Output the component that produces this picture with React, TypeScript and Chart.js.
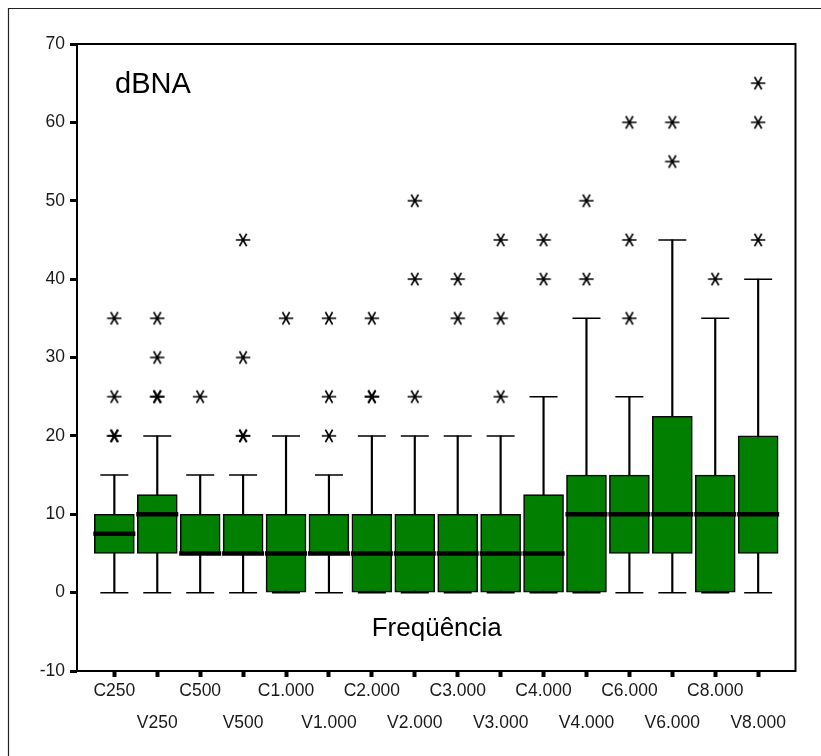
import React, { useEffect, useRef } from 'react';
import { Chart, registerables } from 'chart.js';

Chart.register(...registerables);

const categories = [
  'C250', 'V250', 'C500', 'V500', 'C1.000', 'V1.000', 'C2.000', 'V2.000',
  'C3.000', 'V3.000', 'C4.000', 'V4.000', 'C6.000', 'V6.000', 'C8.000', 'V8.000',
];
const q1 = [5, 5, 5, 5, 0, 5, 0, 0, 0, 0, 0, 0, 5, 5, 0, 5];
const q3 = [10, 12.5, 10, 10, 10, 10, 10, 10, 10, 10, 12.5, 15, 15, 22.5, 15, 20];
const medians = [7.5, 10, 5, 5, 5, 5, 5, 5, 5, 5, 5, 10, 10, 10, 10, 10];
const whiskerLow = [0, 0, 0, 0, 0, 0, 0, 0, 0, 0, 0, 0, 0, 0, 0, 0];
const whiskerHigh = [15, 20, 15, 15, 20, 15, 20, 20, 20, 20, 25, 35, 25, 45, 35, 40];
const outliers: number[][] = [
  [20, 20, 25, 35],
  [25, 25, 30, 35],
  [25],
  [20, 20, 30, 45],
  [35],
  [20, 25, 35],
  [25, 25, 35],
  [25, 40, 50],
  [35, 40],
  [25, 35, 45],
  [40, 45],
  [40, 50],
  [35, 45, 60],
  [55, 60],
  [40],
  [45, 60, 65],
];
const yMin = -10;
const yMax = 70;
const yStep = 10;
const yTitle = 'dBNA';
const xTitle = 'Freqüência';

const TICK_FONT = "'Liberation Sans', Arial, sans-serif";
const TEXT_FONT = "'Liberation Sans', Arial, sans-serif";

export default function App() {
  const ref = useRef<HTMLCanvasElement>(null);

  useEffect(() => {
    if (!ref.current) return;

    const star = document.createElement('canvas');
    star.width = 16;
    star.height = 16;
    const sc = star.getContext('2d')!;
    sc.strokeStyle = '#000';
    sc.lineWidth = 1.6;
    sc.beginPath();
    for (const a of [0, 60, 120]) {
      const rad = (a * Math.PI) / 180;
      const dx = Math.cos(rad) * 7.2;
      const dy = Math.sin(rad) * 7.2;
      sc.moveTo(8 - dx, 8 - dy);
      sc.lineTo(8 + dx, 8 + dy);
    }
    sc.stroke();

    const decor = {
      id: 'decor',
      afterDraw(chart: any) {
        const ctx = chart.ctx as CanvasRenderingContext2D;
        const { left, right, top, bottom } = chart.chartArea;
        ctx.save();
        ctx.strokeStyle = '#000';
        ctx.lineWidth = 2;
        ctx.strokeRect(left, top, right - left, bottom - top);
        ctx.lineWidth = 1.2;
        ctx.strokeStyle = '#222';
        ctx.beginPath();
        ctx.moveTo(8.5, 756);
        ctx.lineTo(8.5, 8.5);
        ctx.lineTo(821, 8.5);
        ctx.stroke();
        ctx.fillStyle = '#000';
        ctx.textBaseline = 'alphabetic';
        ctx.font = `29px ${TEXT_FONT}`;
        ctx.textAlign = 'left';
        ctx.fillText(yTitle, 115, 93);
        ctx.font = `26px ${TEXT_FONT}`;
        ctx.textAlign = 'center';
        ctx.fillText(xTitle, (left + right) / 2 + 0.5, 636);
        ctx.restore();
      },
    };

    const idx = categories.map((_, i) => i);

    const chart = new Chart(ref.current, {
      type: 'bar',
      data: {
        datasets: [
          {
            type: 'bar',
            data: idx.map((i) => ({ x: i, y: [whiskerLow[i], whiskerHigh[i]] })) as any,
            backgroundColor: '#000',
            borderWidth: 0,
            barThickness: 1.5,
            grouped: false,
            order: 7,
          } as any,
          {
            type: 'line',
            data: idx.flatMap((i) => [
              { x: i, y: whiskerLow[i] },
              { x: i, y: whiskerHigh[i] },
            ]),
            showLine: false,
            pointStyle: 'line',
            pointRadius: 14,
            pointBorderWidth: 1.5,
            pointBorderColor: '#000',
            borderColor: '#000',
            order: 6,
          } as any,
          {
            type: 'bar',
            data: idx.map((i) => ({ x: i, y: [q1[i], q3[i]] })) as any,
            backgroundColor: '#007f00',
            borderColor: '#0a0a0a',
            borderWidth: 1.6,
            borderSkipped: false,
            barThickness: 40,
            grouped: false,
            order: 4,
          } as any,
          {
            type: 'line',
            data: idx.map((i) => ({ x: i, y: medians[i] })),
            showLine: false,
            pointStyle: 'line',
            pointRadius: 21,
            pointBorderWidth: 4.5,
            pointBorderColor: '#000',
            borderColor: '#000',
            order: 2,
          } as any,
          {
            type: 'line',
            data: idx.flatMap((i) => outliers[i].map((v) => ({ x: i, y: v }))),
            showLine: false,
            pointStyle: star,
            pointRadius: 7,
            borderColor: '#000',
            order: 1,
          } as any,
        ],
      },
      options: {
        responsive: false,
        animation: false,
        devicePixelRatio: 1,
        layout: { padding: { left: 0, right: 21, top: 44, bottom: 0 } },
        plugins: { legend: { display: false }, tooltip: { enabled: false } },
        events: [],
        scales: {
          x: {
            type: 'linear',
            min: -0.87,
            max: 15.87,
            offset: false,
            afterFit: (s: any) => {
              s.height = 85;
            },
            grid: {
              offset: false,
              drawOnChartArea: false,
              drawTicks: true,
              tickLength: 6,
              tickWidth: 4,
              tickColor: '#000',
            },
            border: { display: false },
            ticks: {
              stepSize: 1,
              includeBounds: false,
              autoSkip: false,
              maxRotation: 0,
              minRotation: 0,
              padding: -2,
              color: '#1a1a1a',
              font: { family: TICK_FONT, size: 17.5, lineHeight: '32px' },
              callback: (v: any) => {
                const i = Math.round(Number(v));
                if (i < 0 || i >= categories.length || Math.abs(Number(v) - i) > 1e-6) return '';
                return i % 2 === 0 ? categories[i] : ['', categories[i]];
              },
            },
          } as any,
          y: {
            type: 'linear',
            min: yMin,
            max: yMax,
            beginAtZero: false,
            afterFit: (s: any) => {
              s.width = 77;
            },
            grid: {
              drawOnChartArea: false,
              drawTicks: true,
              tickLength: 7,
              tickWidth: 3,
              tickColor: '#000',
            },
            border: { display: false },
            ticks: {
              stepSize: yStep,
              padding: 5,
              color: '#1a1a1a',
              font: { family: TICK_FONT, size: 17.5 },
            },
          } as any,
        },
      },
      plugins: [decor],
    } as any);

    return () => chart.destroy();
  }, []);

  return (
    <div style={{ position: 'fixed', left: 0, top: 0, width: 821, height: 756, background: '#fff' }}>
      <canvas ref={ref} width={821} height={756} style={{ display: 'block' }} />
    </div>
  );
}
